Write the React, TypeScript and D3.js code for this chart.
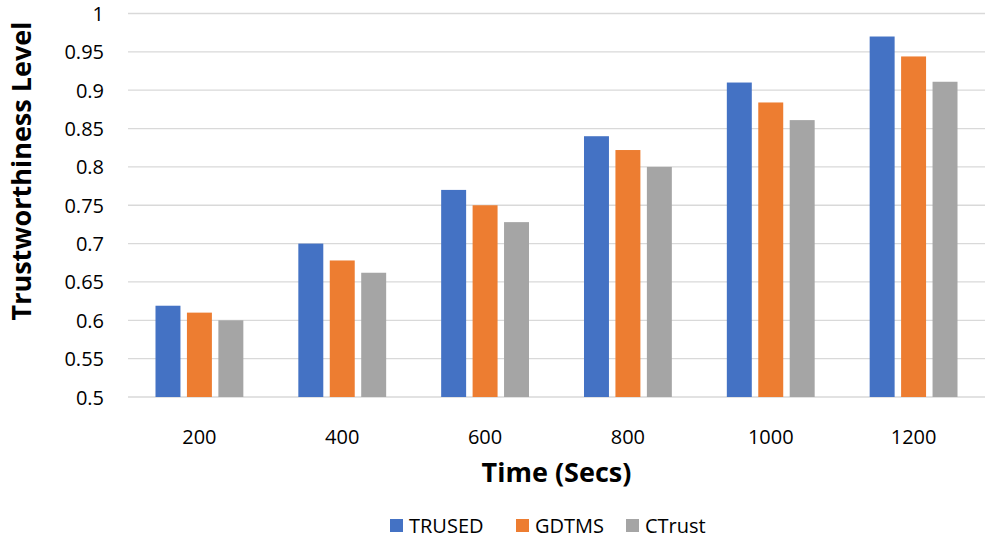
import React from "react";
import * as d3 from "d3";

const categories = ["200", "400", "600", "800", "1000", "1200"];
const seriesNames = ["TRUSED", "GDTMS", "CTrust"];
const trused = [0.619, 0.70, 0.77, 0.84, 0.91, 0.97];
const gdtms = [0.61, 0.678, 0.75, 0.822, 0.884, 0.944];
const ctrust = [0.60, 0.662, 0.728, 0.80, 0.861, 0.911];
const yTicks = [0.5, 0.55, 0.6, 0.65, 0.7, 0.75, 0.8, 0.85, 0.9, 0.95, 1];
const colors = ["#4472C4", "#ED7D31", "#A5A5A5"];

const W = 991;
const H = 538;
const FONT = "'Open Sans', 'Noto Sans', sans-serif";

export default function App() {
  const values = [trused, gdtms, ctrust];
  const x = d3.scaleBand<string>().domain(categories).range([128, 985]).padding(0);
  const y = d3.scaleLinear().domain([0.5, 1]).range([397, 13.5]);
  const groupW = x.step() * 0.615;
  const xs = d3
    .scaleBand<string>()
    .domain(seriesNames)
    .range([0, groupW])
    .paddingInner(0.206)
    .paddingOuter(0);

  const legendX = [390, 516, 626];

  return (
    <svg
      width={W}
      height={H}
      style={{ position: "absolute", left: 0, top: 0, background: "#fff" }}
      fontFamily={FONT}
    >
      <rect x={0} y={0} width={W} height={H} fill="#fff" />
      {yTicks.map((t) => (
        <g key={t}>
          <line
            x1={128}
            x2={985}
            y1={y(t)}
            y2={y(t)}
            stroke="#D9D9D9"
            strokeWidth={1.3}
          />
          <text
            x={104}
            y={y(t)}
            textAnchor="end"
            dominantBaseline="central"
            fontSize={20}
            fill="#000"
          >
            {String(t)}
          </text>
        </g>
      ))}
      {categories.map((c, ci) => {
        const gx = (x(c) as number) + (x.bandwidth() - groupW) / 2;
        return (
          <g key={c}>
            {seriesNames.map((s, si) => (
              <rect
                key={s}
                x={gx + (xs(s) as number)}
                y={y(values[si][ci])}
                width={xs.bandwidth()}
                height={y(0.5) - y(values[si][ci])}
                fill={colors[si]}
              />
            ))}
            <text
              x={(x(c) as number) + x.bandwidth() / 2}
              y={436}
              textAnchor="middle"
              dominantBaseline="central"
              fontSize={20}
              fill="#000"
            >
              {c}
            </text>
          </g>
        );
      })}
      <text
        transform={`translate(20,171) rotate(-90)`}
        textAnchor="middle"
        dominantBaseline="central"
        fontSize={27}
        fontWeight="bold"
        fill="#000"
      >
        Trustworthiness Level
      </text>
      <text
        x={556.5}
        y={471}
        textAnchor="middle"
        dominantBaseline="central"
        fontSize={27}
        fontWeight="bold"
        fill="#000"
      >
        Time (Secs)
      </text>
      {seriesNames.map((s, i) => (
        <g key={s}>
          <rect x={legendX[i]} y={519} width={13} height={13} fill={colors[i]} />
          <text
            x={legendX[i] + 19}
            y={525.5}
            dominantBaseline="central"
            fontSize={20}
            fill="#000"
          >
            {s}
          </text>
        </g>
      ))}
    </svg>
  );
}
